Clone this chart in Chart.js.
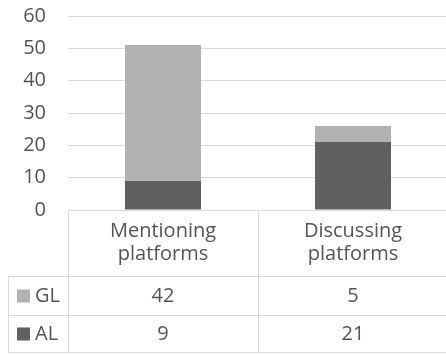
<!DOCTYPE html>
<html>
<head>
<meta charset="utf-8">
<script src="https://cdn.jsdelivr.net/npm/chart.js@4.4.0/dist/chart.umd.min.js"></script>
<style>
  html, body { margin: 0; padding: 0; background: #fff; overflow: hidden; }
  #wrap { width: 448px; height: 354px; }
</style>
</head>
<body>
<div id="wrap"><canvas id="chart" width="448" height="354"></canvas></div>
<script>
// categories, two label lines each
const categories = [['Mentioning', 'platforms'], ['Discussing', 'platforms']];
const seriesNames = ['GL', 'AL'];
const glValues = [42, 5];
const alValues = [9, 21];
const seriesColors = ['#b2b2b2', '#606060'];

const FONT = '"Open Sans", sans-serif';
const TEXT = '#555555';
const LINE = '#d9d9d9';

// data table under the plot, columns follow the x scale
const dataTable = {
    id: 'dataTable',
    afterDraw(chart) {
        const ctx = chart.ctx;
        const area = chart.chartArea;
        const xs = chart.scales.x;
        const left = 8, headBottom = 276, rowBottoms = [315, 352];
        const right = area.right;
        const step = xs.getPixelForValue(1) - xs.getPixelForValue(0);

        ctx.save();
        ctx.strokeStyle = LINE;
        ctx.lineWidth = 1;
        ctx.beginPath();
        // horizontal rules
        ctx.moveTo(area.left, area.bottom + 0.5); ctx.lineTo(right, area.bottom + 0.5);
        [headBottom].concat(rowBottoms).forEach(y => {
            ctx.moveTo(left, y + 0.5); ctx.lineTo(right, y + 0.5);
        });
        // vertical rules
        ctx.moveTo(left + 0.5, headBottom); ctx.lineTo(left + 0.5, rowBottoms[1] + 1);
        for (let i = 0; i <= categories.length; i++) {
            const x = Math.round(area.left + i * step) + 0.5;
            ctx.moveTo(x, area.bottom); ctx.lineTo(x, rowBottoms[1] + 1);
        }
        ctx.stroke();

        ctx.fillStyle = TEXT;
        ctx.font = '20px ' + FONT;
        ctx.textAlign = 'center';
        ctx.textBaseline = 'middle';
        categories.forEach((lines, i) => {
            const cx = xs.getPixelForValue(i);
            ctx.fillText(lines[0], cx, 231);
            ctx.fillText(lines[1], cx, 254);
        });

        const rows = [glValues, alValues];
        const tops = [headBottom, rowBottoms[0]];
        rows.forEach((vals, r) => {
            const cy = (tops[r] + rowBottoms[r]) / 2 + 1;
            ctx.fillStyle = seriesColors[r];
            ctx.fillRect(17, cy - 7, 13, 13);
            ctx.fillStyle = TEXT;
            ctx.textAlign = 'left';
            ctx.fillText(seriesNames[r], 35, cy);
            ctx.textAlign = 'center';
            vals.forEach((v, i) => ctx.fillText(String(v), xs.getPixelForValue(i), cy));
        });
        ctx.restore();
    }
};

new Chart(document.getElementById('chart'), {
    type: 'bar',
    data: {
        labels: categories.map(c => c.join(' ')),
        datasets: [
            { label: 'AL', data: alValues, backgroundColor: seriesColors[1] },
            { label: 'GL', data: glValues, backgroundColor: seriesColors[0] }
        ]
    },
    options: {
        responsive: false,
        animation: false,
        layout: { padding: { top: 16, bottom: 144, left: 0, right: 0 } },
        datasets: { bar: { barPercentage: 0.4, categoryPercentage: 1 } },
        plugins: { legend: { display: false }, tooltip: { enabled: false } },
        scales: {
            x: {
                stacked: true,
                display: false
            },
            y: {
                stacked: true,
                min: 0,
                max: 60,
                ticks: { stepSize: 10, color: TEXT, font: { family: FONT, size: 20 }, padding: 22 },
                grid: { color: LINE, drawTicks: false },
                border: { display: false },
                afterFit(scale) {
                    scale.width = 68;
                    // tick padding would otherwise push the plot top down
                    scale.paddingTop = 0;
                    scale.paddingBottom = 0;
                }
            }
        }
    },
    plugins: [dataTable]
});
</script>
</body>
</html>
